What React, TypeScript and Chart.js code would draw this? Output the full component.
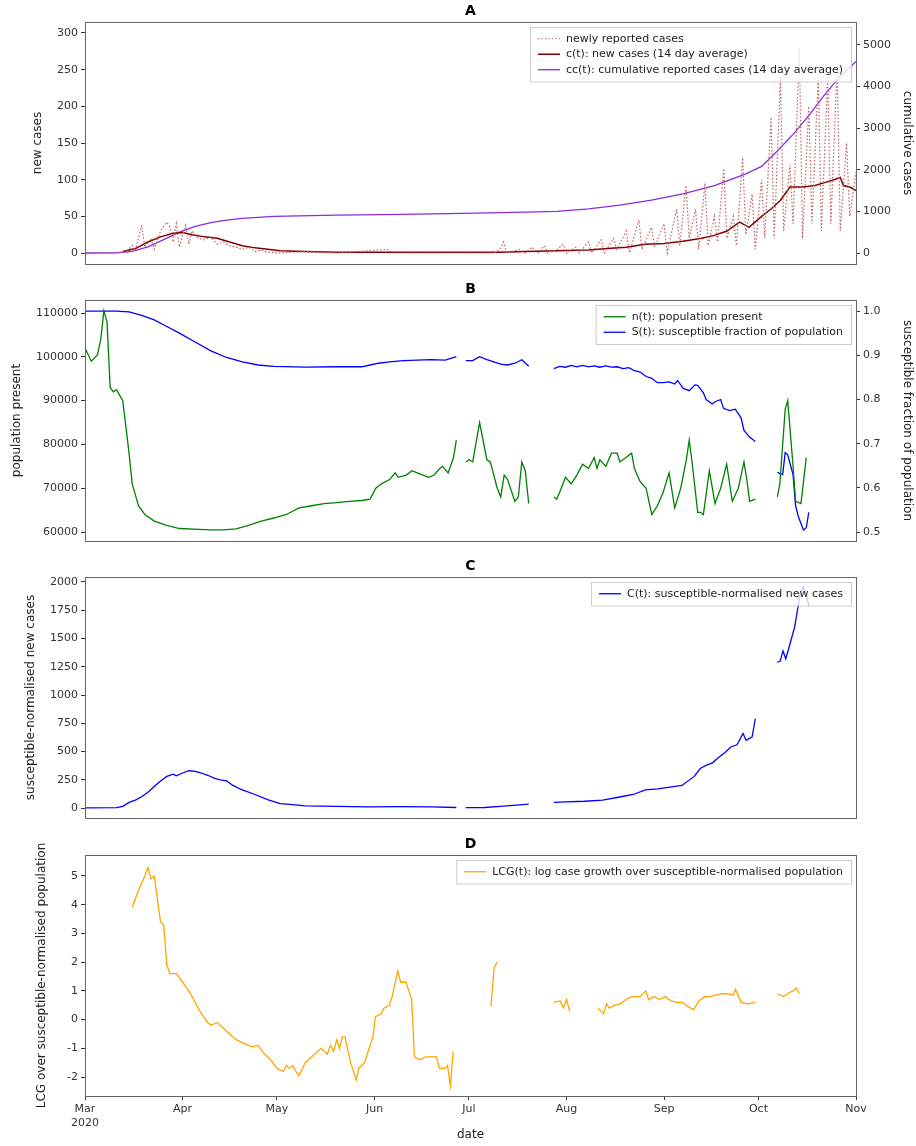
import React, { useEffect, useRef } from 'react';
import Chart from 'chart.js/auto';

// days since 1 Mar 2020
const monthDays = [0, 31, 61, 92, 122, 153, 184, 214, 245];
const monthLabels = [['Mar', '2020'], 'Apr', 'May', 'Jun', 'Jul', 'Aug', 'Sep', 'Oct', 'Nov'];

type P = [number, number | null];

const newlyReported: P[] = [
  [0, 0], [10, 0], [13, 2], [15, 10], [16, 3], [18, 38], [19, 8], [21, 20], [22, 5], [24, 30], [26, 42], [27, 35], [28, 15],
  [29, 40], [30, 8], [31, 25], [32, 38], [33, 12], [34, 30], [36, 20], [38, 18], [40, 22], [42, 12], [44, 15], [46, 10],
  [48, 8], [50, 5], [52, 8], [54, 2], [56, 4], [58, 1], [62, 0], [70, 2], [80, 0], [96, 5], [98, 0], [120, 0], [130, 0],
  [132, 5], [133, 15], [134, 0], [138, 5], [140, 0], [142, 8], [144, 0], [146, 10], [147, 0], [150, 5], [152, 12], [153, 0],
  [156, 8], [157, 0], [160, 15], [161, 0], [164, 18], [165, 0], [168, 20], [169, 5], [172, 30], [173, 0], [176, 45],
  [177, 5], [180, 35], [181, 8], [184, 40], [185, 0], [188, 60], [189, 10], [191, 92], [192, 20], [194, 60], [195, 5],
  [197, 95], [198, 10], [200, 50], [201, 15], [203, 115], [204, 20], [206, 50], [207, 10], [209, 130], [210, 25], [212, 80],
  [213, 5], [215, 100], [216, 20], [218, 185], [219, 20], [221, 240], [222, 30], [224, 120], [225, 40], [227, 280],
  [228, 20], [230, 200], [231, 40], [233, 240], [234, 30], [236, 240], [237, 40], [239, 255], [240, 30], [242, 150],
  [243, 50], [245, 110],
];

const newCasesAvg: P[] = [
  [12, 2], [16, 6], [20, 15], [24, 22], [28, 27], [31, 28], [34, 25], [38, 22], [42, 20], [46, 15], [50, 10], [54, 7],
  [58, 5], [62, 3], [70, 2], [80, 1], [100, 1], [120, 1], [132, 1], [140, 2], [150, 3], [160, 4], [166, 6], [172, 8],
  [178, 12], [184, 13], [190, 16], [196, 20], [200, 24], [204, 30], [208, 42], [211, 35], [215, 50], [218, 60],
  [221, 72], [224, 90], [228, 90], [232, 92], [235, 96], [238, 100], [240, 103], [241, 92], [243, 90], [245, 85],
];

const cumulativeAvg: P[] = [
  [0, 0], [10, 5], [15, 40], [20, 150], [25, 320], [30, 500], [35, 640], [40, 730], [45, 790], [50, 830], [60, 880],
  [80, 910], [100, 930], [120, 950], [140, 980], [150, 1000], [160, 1060], [170, 1150], [180, 1270], [190, 1420],
  [200, 1620], [210, 1900], [215, 2080], [220, 2450], [225, 2850], [230, 3300], [235, 3800], [240, 4250], [245, 4600],
];

const populationPresent: P[] = [
  [0, 102000], [2, 99000], [4, 100500], [5, 104000], [6, 110500], [7, 108000], [8, 93000], [9, 92000], [10, 92500],
  [12, 90000], [13, 84000], [14, 78000], [15, 71000], [17, 66000], [19, 64000], [22, 62500], [26, 61500], [30, 60800],
  [36, 60600], [40, 60500], [44, 60500], [48, 60700], [52, 61500], [56, 62500], [60, 63200], [64, 64000], [68, 65500],
  [72, 66000], [76, 66500], [80, 66700], [84, 67000], [88, 67200], [90.6, 67500], [92.4, 70000], [94.2, 71000],
  [96.8, 72000], [98.6, 73500], [99.5, 72500], [102.1, 73000], [103.9, 74000], [105.6, 73500], [107.4, 73000],
  [109.2, 72500], [110.9, 73000], [112.7, 74500], [113.6, 75000], [115.4, 73500], [117.1, 77000], [118, 81000], [119, null],
  [121, 76000], [122.1, 76500], [123.2, 76000], [125.4, 85000], [127.7, 76500], [128.8, 76000], [131, 70000],
  [132.1, 68000], [133.2, 73000], [134.3, 72000], [136.6, 67000], [137.7, 68000], [138.8, 76000], [139.9, 74000],
  [141, 66500], [142, null],
  [149, 68000], [149.9, 67500], [150.8, 69000], [152.7, 72500], [154.5, 71000], [156.3, 73000], [158.1, 75500],
  [160, 74500], [161.8, 77000], [162.7, 74500], [163.6, 76500], [165.5, 75000], [167.3, 78000], [169.1, 78000],
  [170, 76000], [171.9, 77000], [173.7, 78000], [174.6, 74500], [176.4, 71500], [178.3, 70000], [180.1, 64000],
  [181.9, 66000], [183.7, 69000], [185.6, 73500], [187.4, 65500], [189.3, 70000], [191.1, 76500], [192, 81000],
  [192.9, 76000], [194.7, 64500], [195.6, 64500], [196.5, 64000], [198.4, 74000], [200.2, 66500], [202, 70000],
  [203.9, 75500], [205.7, 67000], [207.6, 70000], [209.4, 76000], [210.3, 72000], [211.2, 67000], [213, 67500], [214, null],
  [220, 68000], [220.8, 71000], [222.5, 88000], [223.3, 90000], [225, 75000], [225.8, 67000], [227.5, 66500], [229.2, 77000],
];

const susceptibleFraction: P[] = [
  [0, 1.0], [10, 1.0], [14, 0.998], [18, 0.99], [22, 0.98], [26, 0.965], [30, 0.95], [35, 0.93], [40, 0.91], [45, 0.895],
  [50, 0.885], [55, 0.878], [60, 0.875], [70, 0.873], [80, 0.874], [88, 0.874], [90.6, 0.878], [93.3, 0.882],
  [96.8, 0.885], [101.2, 0.888], [105.6, 0.889], [110, 0.89], [114.5, 0.889], [116.2, 0.893], [118, 0.897], [119, null],
  [121, 0.888], [123.2, 0.888], [125.4, 0.897], [127.7, 0.89], [129.9, 0.885], [132.1, 0.88], [134.3, 0.878],
  [136.6, 0.882], [138.8, 0.89], [141, 0.875], [142, null],
  [149, 0.87], [150.8, 0.875], [152.7, 0.873], [154.5, 0.877], [156.3, 0.874], [158.1, 0.877], [160, 0.874],
  [161.8, 0.876], [163.6, 0.873], [165.5, 0.876], [167.3, 0.873], [169.1, 0.874], [171, 0.87], [172.8, 0.872],
  [174.6, 0.865], [176.4, 0.862], [178.3, 0.852], [180.1, 0.848], [181.9, 0.838], [183.7, 0.838], [185.6, 0.84],
  [187.4, 0.835], [188.3, 0.843], [190.1, 0.825], [192, 0.82], [193.8, 0.833], [194.7, 0.832], [196.5, 0.815],
  [197.4, 0.8], [199.3, 0.79], [200.2, 0.795], [202, 0.8], [202.9, 0.78], [204.8, 0.775], [206.6, 0.778],
  [207.6, 0.768], [208.5, 0.758], [209.4, 0.73], [211.2, 0.715], [213, 0.705], [214, null],
  [220, 0.635], [221.7, 0.63], [222.5, 0.68], [223.3, 0.675], [225, 0.63], [225.8, 0.56], [226.7, 0.535],
  [228.3, 0.505], [229.2, 0.51], [230, 0.545],
];

const normalisedNewCases: P[] = [
  [0, 2], [10, 3], [12, 15], [14, 50], [16, 70], [18, 100], [20, 140], [22, 190], [24, 240], [26, 280], [28, 300],
  [29, 285], [31, 310], [33, 330], [35, 325], [37, 310], [39, 290], [41, 265], [43, 250], [45, 240], [47, 200],
  [50, 160], [54, 120], [58, 75], [62, 40], [66, 30], [70, 20], [80, 15], [90, 10], [100, 12], [110, 10], [118, 5], [119, null],
  [121, 3], [127, 5], [132, 15], [137, 25], [141, 35], [142, null],
  [149, 50], [152.9, 55], [158.7, 60], [164.5, 70], [170.3, 100], [174.2, 120], [178.1, 160], [182, 170],
  [185.8, 185], [189.7, 200], [193.6, 280], [195.5, 350], [197.5, 380], [199.4, 400], [201.4, 450], [203.3, 490],
  [205.2, 540], [207.2, 560], [209.1, 660], [210.1, 600], [212, 630], [213, 790], [214, null],
  [220, 1290], [220.9, 1300], [221.8, 1390], [222.7, 1320], [224.5, 1500], [225.5, 1600], [226.4, 1750],
  [227.3, 1900], [228.2, 1960], [229.1, 1900], [230, 1790],
];

const logCaseGrowth: P[] = [
  [15, 3.9], [17, 4.5], [19, 5.0], [20, 5.3], [21, 4.9], [22, 5.0], [24, 3.4], [25, 3.3], [26, 1.9], [27, 1.6],
  [29, 1.6], [31, 1.3], [33, 1.0], [35, 0.6], [37, 0.2], [39, -0.1], [40, -0.2], [42, -0.1], [44, -0.3], [46, -0.5],
  [48, -0.7], [50, -0.8], [53, -0.95], [55, -0.9], [57, -1.2], [59, -1.4], [61, -1.7], [63, -1.8], [64, -1.6],
  [65, -1.7], [66, -1.6], [67, -1.8], [68, -1.95], [70, -1.5], [72, -1.3], [74, -1.1], [75, -1.0], [77, -1.2],
  [78, -0.9], [79, -1.1], [80, -0.7], [80.9, -1.0], [81.8, -0.6], [82.6, -0.6], [84.4, -1.5], [86.2, -2.1],
  [87, -1.7], [88.8, -1.5], [90.6, -0.9], [91.5, -0.6], [92.3, 0.1], [94.1, 0.2], [95, 0.4], [96.7, 0.5],
  [97.6, 0.8], [99.4, 1.7], [100.3, 1.3], [102, 1.3], [102.9, 1.0], [103.8, 0.7], [104.7, -1.3], [106.4, -1.4],
  [108.2, -1.3], [110, -1.3], [111.7, -1.3], [112.6, -1.7], [114.4, -1.7], [115.2, -1.6], [116.1, -2.3], [117, -1.1], [118, null],
  [129, 0.45], [130, 1.8], [131, 2.0], [132, null],
  [149, 0.6], [151, 0.65], [152, 0.4], [153, 0.7], [154, 0.3], [155, null],
  [163, 0.4], [164.8, 0.2], [165.7, 0.55], [166.6, 0.4], [168.4, 0.5], [170.1, 0.55], [171.9, 0.7], [173.7, 0.8],
  [176.4, 0.8], [178.2, 1.0], [179.1, 0.7], [180.9, 0.8], [182.6, 0.7], [184.4, 0.8], [186.2, 0.65], [188, 0.6],
  [189.8, 0.6], [191.6, 0.45], [193.4, 0.35], [195.1, 0.65], [196.9, 0.8], [198.7, 0.8], [200.5, 0.85],
  [202.3, 0.9], [204.1, 0.9], [205.9, 0.85], [206.7, 1.05], [208.5, 0.6], [210.3, 0.55], [213, 0.6], [214, null],
  [220, 0.9], [222, 0.8], [224, 0.95], [225, 1.0], [226, 1.1], [227, 0.9],
];

const ticksA = [0, 50, 100, 150, 200, 250, 300];
const ticksARight = [0, 1000, 2000, 3000, 4000, 5000];
const ticksB = [60000, 70000, 80000, 90000, 100000, 110000];
const ticksBRight = [0.5, 0.6, 0.7, 0.8, 0.9, 1.0];
const ticksC = [0, 250, 500, 750, 1000, 1250, 1500, 1750, 2000];
const ticksD = [-2, -1, 0, 1, 2, 3, 4, 5];

const FONT = "'DejaVu Sans', sans-serif";
const toXY = (d: P[]) => d.map(([x, y]) => ({ x, y }));

// plot frame, panel letter and an in-axes legend like matplotlib's
const boxPlugin = {
  id: 'box',
  afterDraw(chart: any) {
    const { ctx, chartArea: a } = chart;
    ctx.save();
    ctx.strokeStyle = '#666';
    ctx.lineWidth = 1;
    ctx.strokeRect(a.left + 0.5, a.top + 0.5, a.right - a.left, a.bottom - a.top);

    ctx.fillStyle = '#000';
    ctx.font = `bold 14px ${FONT}`;
    ctx.textAlign = 'center';
    ctx.textBaseline = 'middle';
    ctx.fillText(chart.options.plugins.panelTitle, (a.left + a.right) / 2, a.top - 11);

    ctx.font = `11px ${FONT}`;
    ctx.textAlign = 'left';
    const sets = chart.data.datasets;
    const textW = Math.max(...sets.map((d: any) => ctx.measureText(d.label).width));
    const rowH = 15.5;
    const w = textW + 44;
    const h = sets.length * rowH + 8;
    const x0 = a.right - 5 - w;
    const y0 = a.top + 5;
    ctx.fillStyle = 'rgba(255,255,255,0.8)';
    ctx.fillRect(x0, y0, w, h);
    ctx.strokeStyle = '#ccc';
    ctx.strokeRect(x0 + 0.5, y0 + 0.5, w, h);
    sets.forEach((d: any, i: number) => {
      const cy = y0 + 4 + rowH * i + rowH / 2;
      ctx.strokeStyle = d.borderColor;
      ctx.lineWidth = d.borderWidth || 1.3;
      ctx.setLineDash(d.borderDash || []);
      ctx.beginPath();
      ctx.moveTo(x0 + 8, cy);
      ctx.lineTo(x0 + 30, cy);
      ctx.stroke();
      ctx.setLineDash([]);
      ctx.fillStyle = '#222';
      ctx.fillText(d.label, x0 + 36, cy);
    });
    ctx.restore();
  },
};

const fixedTicks = (vals: number[]) => (s: any) => {
  s.ticks = vals.map((v) => ({ value: v }));
};

const yAxis = (pos: string, min: number, max: number, vals: number[], title: string, titlePad: number, fmt?: (v: number) => string) => ({
  type: 'linear',
  position: pos,
  min,
  max,
  afterBuildTicks: fixedTicks(vals),
  afterFit: (s: any) => { s.width = pos === 'left' ? 85 : 60; },
  grid: { drawOnChartArea: false, tickLength: 4, color: '#333' },
  border: { display: false },
  ticks: { color: '#333', font: { family: FONT, size: 11 }, padding: 3, callback: fmt || ((v: any) => String(v)) },
  title: { display: true, text: title, color: '#222', font: { family: FONT, size: 12 }, padding: { top: titlePad, bottom: 2 } },
});

type Panel = {
  title: string;
  datasets: any[];
  y: any;
  y1?: any;
  bottom: boolean;
  top: number;
};

function PanelChart({ p, height }: { p: Panel; height: number }) {
  const ref = useRef<HTMLCanvasElement>(null);
  useEffect(() => {
    if (!ref.current) return;
    const scales: any = {
      x: {
        type: 'linear',
        min: 0,
        max: 245,
        afterBuildTicks: fixedTicks(monthDays),
        afterFit: (s: any) => { s.height = p.bottom ? 50 : 13; },
        grid: { drawOnChartArea: false, tickLength: p.bottom ? 4 : 0, color: '#333' },
        border: { display: false },
        ticks: {
          display: p.bottom,
          color: '#333',
          maxRotation: 0,
          autoSkip: false,
          font: { family: FONT, size: 11 },
          callback: (v: any) => monthLabels[monthDays.indexOf(v)],
        },
        title: { display: p.bottom, text: 'date', color: '#222', font: { family: FONT, size: 12 }, padding: { top: 10 } },
      },
      y: p.y,
    };
    if (p.y1) scales.y1 = p.y1;
    const chart = new Chart(ref.current, {
      type: 'line',
      data: { datasets: p.datasets },
      plugins: [boxPlugin],
      options: {
        animation: false,
        responsive: false,
        parsing: false as any,
        spanGaps: false,
        layout: { padding: { top: p.top, left: 0, right: p.y1 ? 0 : 60, bottom: 0 } },
        elements: { point: { radius: 0 }, line: { borderWidth: 1.3, tension: 0 } },
        scales,
        plugins: {
          panelTitle: p.title,
          tooltip: { enabled: false },
          legend: { display: false },
        } as any,
      },
    });
    return () => chart.destroy();
  }, []);
  return <canvas ref={ref} width={916} height={height} style={{ display: 'block', width: 916, height }} />;
}

const panels: Panel[] = [
  {
    title: 'A',
    top: 22,
    bottom: false,
    datasets: [
      { label: 'newly reported cases', data: toXY(newlyReported), borderColor: '#c46060', borderDash: [1.5, 2], borderWidth: 1.2, yAxisID: 'y' },
      { label: 'c(t): new cases (14 day average)', data: toXY(newCasesAvg), borderColor: '#800000', borderWidth: 1.5, yAxisID: 'y' },
      { label: 'cc(t): cumulative reported cases (14 day average)', data: toXY(cumulativeAvg), borderColor: '#8a2be2', borderWidth: 1.3, yAxisID: 'y1' },
    ],
    y: yAxis('left', -15, 315, ticksA, 'new cases', 31),
    y1: yAxis('right', -264, 5550, ticksARight, 'cumulative cases', 2),
  },
  {
    title: 'B',
    top: 23,
    bottom: false,
    datasets: [
      { label: 'n(t): population present', data: toXY(populationPresent), borderColor: 'green', yAxisID: 'y' },
      { label: 'S(t): susceptible fraction of population', data: toXY(susceptibleFraction), borderColor: 'blue', yAxisID: 'y1' },
    ],
    y: yAxis('left', 57950, 112970, ticksB, 'population present', 10),
    y1: yAxis('right', 0.48, 1.025, ticksBRight, 'susceptible fraction of population', 2, (v) => v.toFixed(1)),
  },
  {
    title: 'C',
    top: 23,
    bottom: false,
    datasets: [
      { label: 'C(t): susceptible-normalised new cases', data: toXY(normalisedNewCases), borderColor: 'blue', yAxisID: 'y' },
    ],
    y: yAxis('left', -88, 2044, ticksC, 'susceptible-normalised new cases', 24),
  },
  {
    title: 'D',
    top: 24,
    bottom: true,
    datasets: [
      { label: 'LCG(t): log case growth over susceptible-normalised population', data: toXY(logCaseGrowth), borderColor: 'orange', yAxisID: 'y' },
    ],
    y: yAxis('left', -2.66, 5.73, ticksD, 'LCG over susceptible-normalised population', 35),
  },
];

export default function App() {
  const tops = [0, 277, 554, 831];
  const heights = [277, 277, 277, 315];
  return (
    <div style={{ position: 'absolute', left: 0, top: 0, width: 916, height: 1146, background: '#fff' }}>
      {panels.map((p, i) => (
        <div key={p.title} style={{ position: 'absolute', left: 0, top: tops[i] }}>
          <PanelChart p={p} height={heights[i]} />
        </div>
      ))}
    </div>
  );
}
